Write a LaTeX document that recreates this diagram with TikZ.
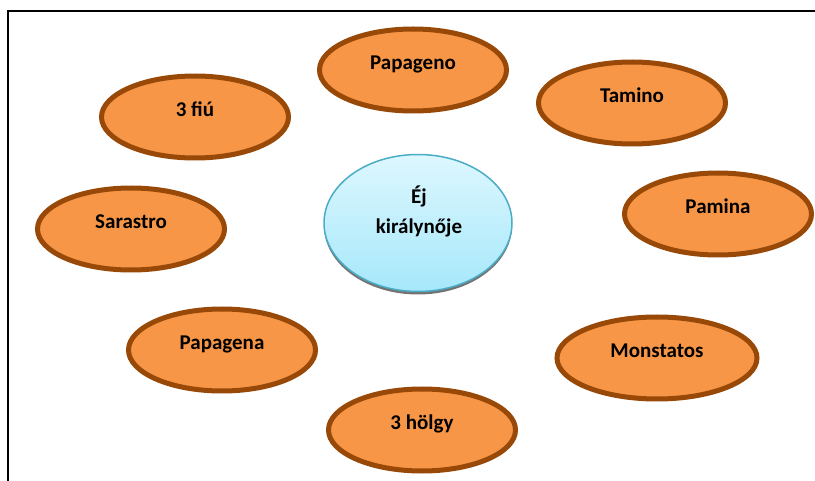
\documentclass[tikz,border=0pt]{standalone}
\usepackage{fontspec}
\setmainfont{Carlito}
\usetikzlibrary{shapes.geometric,shadows}
\definecolor{actorfill}{HTML}{F79646}
\definecolor{actorline}{HTML}{984807}
\definecolor{centertop}{HTML}{DDF7FE}
\definecolor{centerbot}{HTML}{A6E8FB}
\definecolor{centerline}{HTML}{4BACC6}
\begin{document}
\begin{tikzpicture}[x=1pt,y=-1pt,
  actor/.style={ellipse, draw=actorline, fill=actorfill, line width=5pt,
    minimum width=187pt, minimum height=82pt, inner sep=0pt},
  lbl/.style={font=\fontsize{21}{25}\selectfont\bfseries, text height=14.7pt,
    text depth=5pt, inner sep=0pt},
  centre/.style={ellipse, draw=centerline, line width=1.5pt,
    top color=centertop, bottom color=centerbot,
    minimum width=188pt, minimum height=137pt, inner sep=0pt,
    drop shadow={shadow xshift=0pt, shadow yshift=-3pt, fill=black!55, opacity=1}},
  frame/.style={line width=2pt, black}
]
\useasboundingbox (0,0) rectangle (815,481);
\draw[frame] (8,481) -- (8,11) -- (815,11);

\node[actor, label={[lbl,yshift=5pt]center:Papageno}] (papageno) at (413,70) {};
\node[actor, label={[lbl,yshift=5pt]center:Tamino}] (tamino) at (632,103) {};
\node[actor, label={[lbl,yshift=5pt]center:3 fiú}] (fiu) at (195,117) {};
\node[actor, label={[lbl,yshift=5pt]center:Sarastro}] (sarastro) at (131,229) {};
\node[actor, label={[lbl,yshift=5pt]center:Pamina}] (pamina) at (718,214) {};
\node[actor, label={[lbl,yshift=5pt]center:Papagena}] (papagena) at (222,350) {};
\node[actor, minimum width=200pt, label={[lbl,yshift=5pt]center:Monstatos}] (monstatos) at (657,358) {};
\node[actor, label={[lbl,yshift=5pt]center:3 hölgy}] (holgy) at (422,430) {};

\node[centre] (queen) at (418,223) {};
\node[lbl] (queen1) at (419,199) {Éj};
\node[lbl] (queen2) at (419,229) {királynője};
\end{tikzpicture}
\end{document}
